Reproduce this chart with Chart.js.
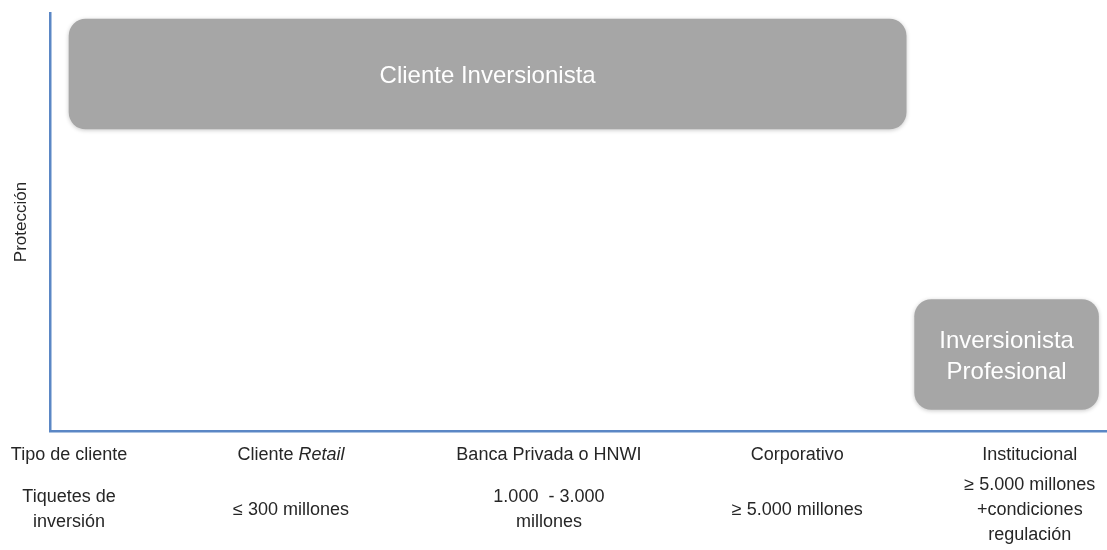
<!DOCTYPE html>
<html lang="es">
<head>
    <meta charset="UTF-8">
    <title>Cliente Inversionista / Inversionista Profesional</title>
    <style>
        body { margin: 0; background: #fff; }
        #caja { width: 1107px; height: 550px; }
    </style>
</head>
<body>
    <div id="caja"><canvas id="myChart"></canvas></div>

    <script src="https://cdn.jsdelivr.net/npm/chart.js@4/dist/chart.umd.min.js"></script>
    <script>
        // categorias (cajas grises)
        var categorias = [['Cliente Inversionista'], ['Inversionista', 'Profesional']];
        // tramo horizontal de cada caja (0-100) y nivel de proteccion (0-10)
        var tramos = [[1.8, 81.0], [81.8, 99.2]];
        var proteccion = [8.54, 1.83];

        // tabla bajo el eje x
        var columnas = [1.8, 22.8, 47.2, 70.7, 92.7];
        var tiposCliente = ['Tipo de cliente', 'Cliente *Retail*', 'Banca Privada o HNWI', 'Corporativo', 'Institucional'];
        var tiquetes = [
            ['Tiquetes de', 'inversión'],
            ['≤ 300 millones'],
            ['1.000  - 3.000', 'millones'],
            ['≥ 5.000 millones'],
            ['≥ 5.000 millones', '+condiciones', 'regulación']
        ];

        var fuente = "'Liberation Sans', Arial, sans-serif";
        var azul = '#5b87c5';
        Chart.defaults.font.family = fuente;
        Chart.defaults.color = '#262626';

        var datos = [];
        for (var i = 0; i < tramos.length; i++) {
            datos.push({ x: tramos[i], y: proteccion[i] });
        }

        // sombra suave de las cajas
        var sombra = {
            id: 'sombra',
            beforeDatasetsDraw: function(chart) {
                var ctx = chart.ctx;
                ctx.save();
                ctx.shadowColor = 'rgba(0,0,0,0.22)';
                ctx.shadowBlur = 4;
                ctx.shadowOffsetY = 1;
            },
            afterDatasetsDraw: function(chart) {
                chart.ctx.restore();
            }
        };

        // texto dentro de las cajas
        var etiquetas = {
            id: 'etiquetas',
            afterDatasetsDraw: function(chart) {
                var ctx = chart.ctx;
                var meta = chart.getDatasetMeta(0);
                ctx.save();
                ctx.fillStyle = '#ffffff';
                ctx.font = '24px ' + fuente;
                ctx.textAlign = 'center';
                ctx.textBaseline = 'middle';
                meta.data.forEach(function(bar, i) {
                    var lineas = categorias[i];
                    var cx = (bar.x + bar.base) / 2;
                    var alto = 31;
                    var y0 = bar.y - (lineas.length - 1) * alto / 2 + 2;
                    lineas.forEach(function(t, j) {
                        ctx.fillText(t, cx, y0 + j * alto);
                    });
                });
                ctx.restore();
            }
        };

        function textoMixto(ctx, texto, cx, y, size) {
            var partes = texto.split('*');
            var total = 0;
            partes.forEach(function(p, k) {
                ctx.font = (k % 2 ? 'italic ' : '') + size + 'px ' + fuente;
                total += ctx.measureText(p).width;
            });
            var x = cx - total / 2;
            ctx.textAlign = 'left';
            partes.forEach(function(p, k) {
                ctx.font = (k % 2 ? 'italic ' : '') + size + 'px ' + fuente;
                ctx.fillText(p, x, y);
                x += ctx.measureText(p).width;
            });
        }

        // tabla: tipo de cliente y tiquetes de inversion
        var tabla = {
            id: 'tabla',
            afterDraw: function(chart) {
                var ctx = chart.ctx;
                var xs = chart.scales.x;
                ctx.save();
                ctx.fillStyle = '#262626';
                ctx.textBaseline = 'middle';
                for (var c = 0; c < columnas.length; c++) {
                    var px = xs.getPixelForValue(columnas[c]);
                    textoMixto(ctx, tiposCliente[c], px, 455, 18);
                    var lineas = tiquetes[c];
                    var alto = 25;
                    var y0 = 510 - (lineas.length - 1) * alto / 2;
                    for (var j = 0; j < lineas.length; j++) {
                        textoMixto(ctx, lineas[j], px, y0 + j * alto, 18);
                    }
                }
                ctx.restore();
            }
        };

        var ctx = document.getElementById('myChart').getContext('2d');
        var myChart = new Chart(ctx, {
            type: 'bar',
            data: {
                datasets: [{
                    data: datos,
                    backgroundColor: '#a6a6a6',
                    borderRadius: 17,
                    borderSkipped: false,
                    barThickness: 110
                }]
            },
            options: {
                indexAxis: 'y',
                responsive: true,
                maintainAspectRatio: false,
                animation: false,
                layout: { padding: { top: 13, bottom: 119, left: 0, right: 0 } },
                plugins: {
                    legend: { display: false },
                    tooltip: { enabled: false }
                },
                scales: {
                    x: {
                        type: 'linear',
                        min: 0,
                        max: 100,
                        grid: { display: false },
                        ticks: { display: false },
                        border: { display: true, color: azul, width: 2.5 },
                        afterFit: function(s) { s.height = 0; }
                    },
                    y: {
                        type: 'linear',
                        offset: false,
                        min: 0,
                        max: 10,
                        grid: { display: false },
                        ticks: { display: false },
                        border: { display: true, color: azul, width: 2.5 },
                        title: {
                            display: true,
                            text: 'Protección',
                            font: { size: 17 },
                            color: '#262626',
                            padding: { top: 11, bottom: 0 }
                        },
                        afterFit: function(s) { s.width = 50; }
                    }
                }
            },
            plugins: [sombra, etiquetas, tabla]
        });
    </script>
</body>
</html>
